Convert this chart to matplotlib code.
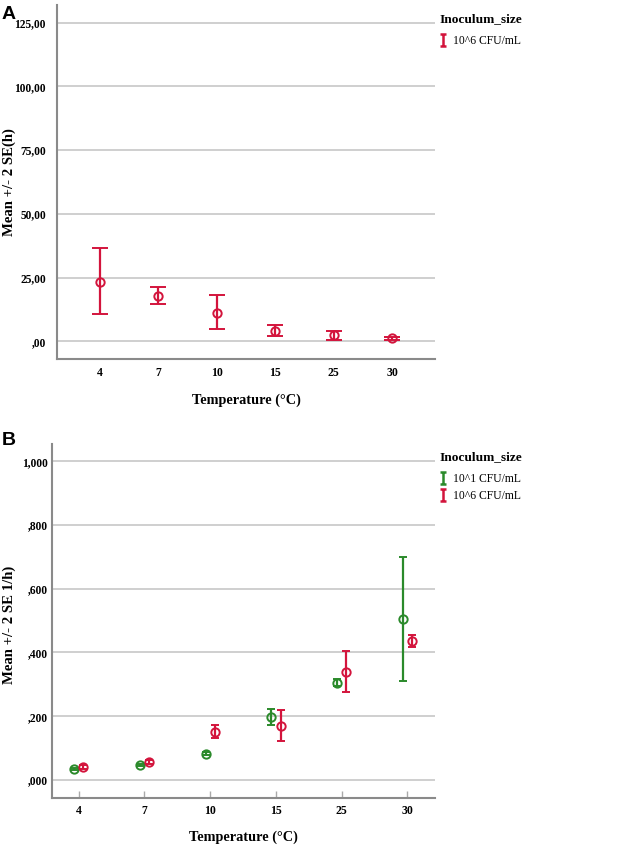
import matplotlib
matplotlib.use("Agg")
import matplotlib.pyplot as plt
from matplotlib.path import Path
from matplotlib.lines import Line2D
from matplotlib.ticker import FuncFormatter, MultipleLocator

# данные
temps = ["4", "7", "10", "15", "25", "30"]

# панель A: время (ч), инокулят 10^6
a_mean = [23.3, 17.8, 11.3, 4.0, 2.3, 1.3]
a_low = [10.6, 14.5, 4.7, 2.0, 0.6, 0.7]
a_high = [36.5, 21.4, 18.1, 6.4, 3.9, 1.9]

# панель B: скорость (1/ч)
b1_mean = [0.034, 0.047, 0.083, 0.199, 0.305, 0.505]
b1_low = [0.030, 0.043, 0.079, 0.174, 0.295, 0.312]
b1_high = [0.038, 0.051, 0.087, 0.223, 0.316, 0.700]
b6_mean = [0.042, 0.057, 0.152, 0.170, 0.340, 0.435]
b6_low = [0.036, 0.051, 0.133, 0.122, 0.275, 0.418]
b6_high = [0.048, 0.063, 0.172, 0.218, 0.406, 0.454]

RED = "#d3143c"
GREEN = "#2b8a2b"
SERIF = "Liberation Serif"

plt.rcParams["font.family"] = SERIF

fig = plt.figure(figsize=(6.21, 8.47), dpi=100)

# маркер легенды в виде "I"
ibeam = Path([(-0.6, 1), (0.6, 1), (0, 1), (0, -1), (-0.6, -1), (0.6, -1)],
             [Path.MOVETO, Path.LINETO, Path.MOVETO, Path.LINETO, Path.MOVETO, Path.LINETO])


def style_axes(ax, ylim, fmt, major, ypad, xticks_in):
    ax.set_ylim(*ylim)
    ax.yaxis.set_major_locator(MultipleLocator(major))
    ax.yaxis.set_major_formatter(FuncFormatter(fmt))
    ax.grid(axis="y", color="#cccccc", lw=1.3)
    ax.set_axisbelow(True)
    for s in ["top", "right"]:
        ax.spines[s].set_visible(False)
    for s in ["left", "bottom"]:
        ax.spines[s].set_color("#8a8a8a")
        ax.spines[s].set_linewidth(1.5)
    ax.tick_params(axis="y", length=0, pad=ypad, labelsize=8.3)
    if xticks_in:
        ax.tick_params(axis="x", direction="in", length=5, width=1, color="#aaaaaa", pad=5, labelsize=8.5)
    else:
        ax.tick_params(axis="x", length=0, pad=6, labelsize=8.5)
    for lab in ax.get_xticklabels() + ax.get_yticklabels():
        lab.set_fontweight("bold")
    ax.set_xlabel("Temperature (°C)", fontsize=10.3, fontweight="bold", labelpad=10)


def draw_err(ax, x, mean, low, high, color, capsize):
    yerr = [[m - l for m, l in zip(mean, low)], [h - m for m, h in zip(mean, high)]]
    ax.errorbar(x, mean, yerr=yerr, fmt="o", mfc="none", mec=color, ms=6, mew=1.4,
                ecolor=color, elinewidth=1.6, capsize=capsize, capthick=1.6)


# ---- панель A ----
axA = fig.add_axes([0.0918, 0.5762, 0.6087, 0.418])
xA = list(range(len(temps)))
draw_err(axA, xA, a_mean, a_low, a_high, RED, 5.5)
axA.set_xlim(-0.73, 5.73)
axA.set_xticks(xA)
axA.set_xticklabels(temps)
style_axes(axA, (-6.9, 131.9), lambda v, p: f"{v:.2f}".replace(".", ",").lstrip("0") if abs(v) > 1e-9 else ",00",
           25, 8, False)
axA.set_ylabel("Mean +/- 2 SE(h)", fontsize=10.6, fontweight="bold")
axA.yaxis.set_label_coords(-0.109, 0.5)

# ---- панель B ----
axB = fig.add_axes([0.0833, 0.0582, 0.6172, 0.4176])
off = 0.07
draw_err(axB, [i - off for i in xA], b1_mean, b1_low, b1_high, GREEN, 3)
draw_err(axB, [i + off for i in xA], b6_mean, b6_low, b6_high, RED, 3)
axB.set_xlim(-0.41, 5.42)
axB.set_xticks(xA)
axB.set_xticklabels(temps)
style_axes(axB, (-0.0556, 1.054), lambda v, p: f"{v:.3f}".replace(".", ",").lstrip("0") if abs(v) > 1e-9 else ",000",
           0.2, 3, True)
axB.set_ylabel("Mean +/- 2 SE 1/h)", fontsize=10.6, fontweight="bold")
axB.yaxis.set_label_coords(-0.094, 0.49)

# подписи панелей
fig.text(0.003, 0.993, "A", fontsize=14, fontweight="bold", family="Liberation Sans", va="top")
fig.text(0.003, 0.490, "B", fontsize=14, fontweight="bold", family="Liberation Sans", va="top")

# легенды
h6 = Line2D([], [], ls="none", marker=ibeam, color=RED, ms=8, mew=1.8)
h1 = Line2D([], [], ls="none", marker=ibeam, color=GREEN, ms=8, mew=1.8)

legA = fig.legend([h6], ["10^6 CFU/mL"], loc="upper left", bbox_to_anchor=(0.708, 0.984),
                  frameon=False, title="Inoculum_size", fontsize=8.4, handlelength=0.6,
                  handletextpad=0.5, alignment="left", borderaxespad=0, borderpad=0)
legA.get_title().set_fontweight("bold")
legA.get_title().set_fontsize(9.6)
legA._legend_box.sep = 7

legB = fig.legend([h1, h6], ["10^1 CFU/mL", "10^6 CFU/mL"], loc="upper left",
                  bbox_to_anchor=(0.708, 0.467), frameon=False, title="Inoculum_size",
                  fontsize=8.4, handlelength=0.6, handletextpad=0.5, alignment="left",
                  borderaxespad=0, borderpad=0, labelspacing=0.45)
legB.get_title().set_fontweight("bold")
legB.get_title().set_fontsize(9.6)
legB._legend_box.sep = 7

fig.savefig("out.png", dpi=100)
